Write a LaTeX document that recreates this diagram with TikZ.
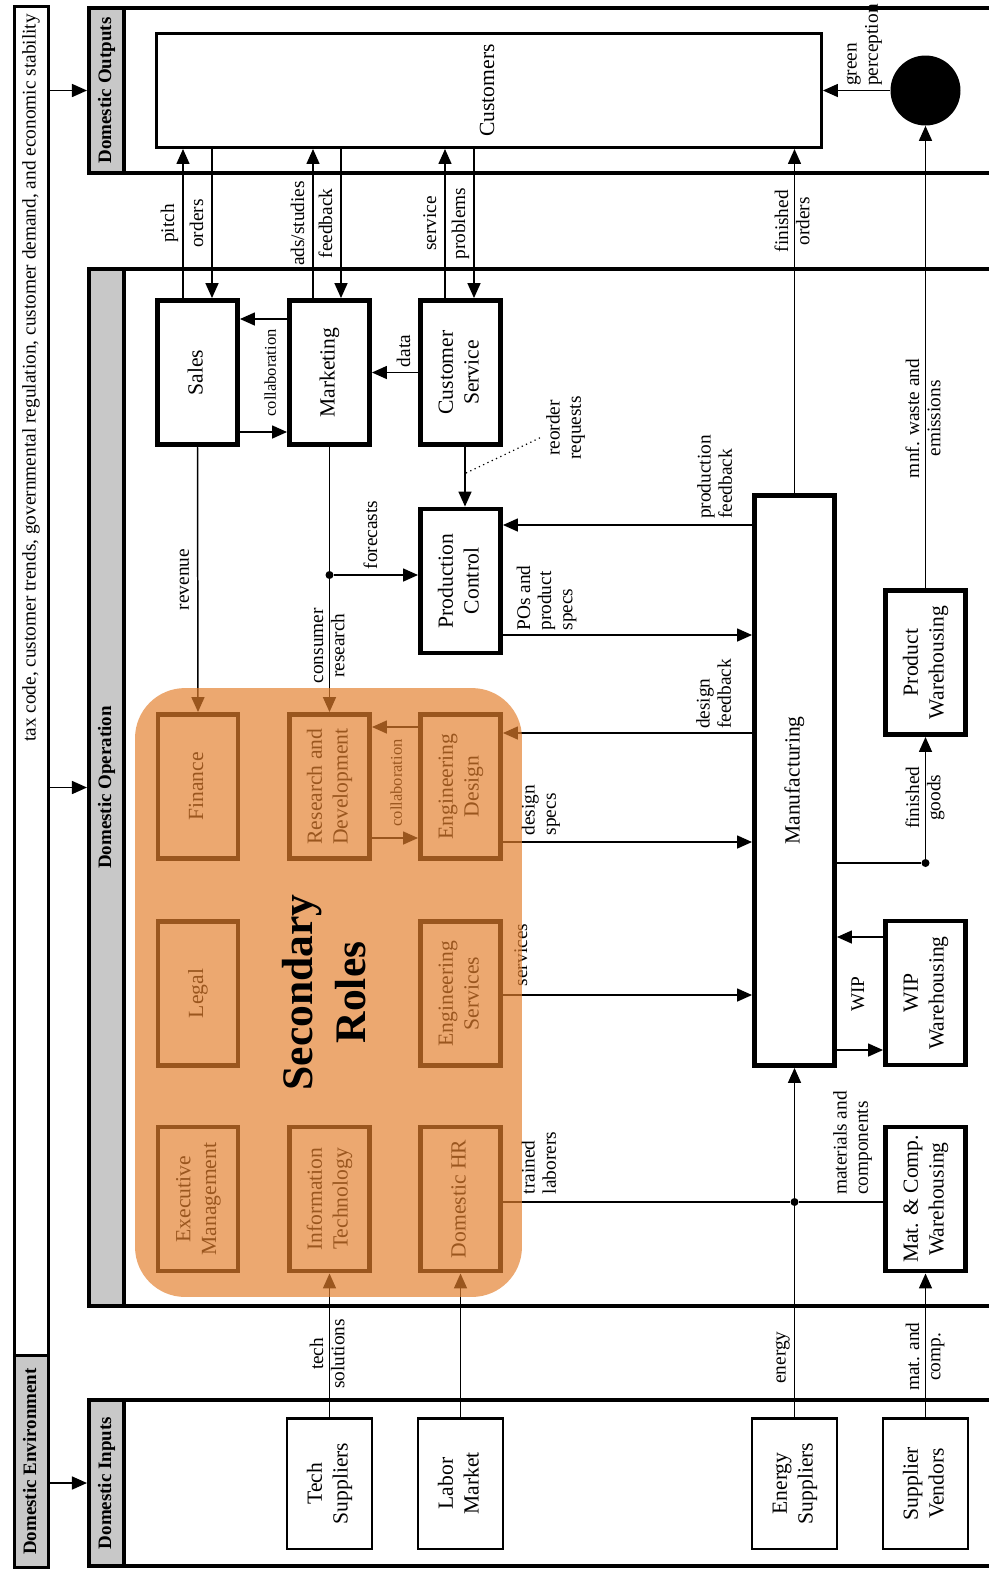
\documentclass[tikz,border=0pt]{standalone}
\usepackage{fontspec}
\setmainfont{Liberation Serif}
\usepackage{graphicx}
\usepackage{tikz}
\usetikzlibrary{arrows.meta,positioning}
\definecolor{StripGray} {HTML}{C8C8C8}
\definecolor{RoleOrange}{RGB}{227,127,45}
\newcommand\vtext[2][c]{\rotatebox{90}{\begin{tabular}{@{}#1@{}}#2\end{tabular}}}
\tikzset{
  group/.style={draw,line width=2.3pt},
  strip/.style={draw,fill=StripGray,line width=2.3pt,inner sep=0pt,minimum width=0.7cm,
                font=\fontsize{10.8}{13}\selectfont\bfseries},
  unit/.style={draw,fill=white,line width=2.8pt,inner sep=0pt,minimum width=1.6cm,
               minimum height=2.88cm,font=\fontsize{12.3}{14.7}\selectfont},
  source/.style={draw,fill=white,line width=1.4pt,inner sep=0pt,minimum width=1.71cm,
                 minimum height=2.61cm,font=\fontsize{12.3}{14.7}\selectfont},
  roles/.style={fill=RoleOrange,fill opacity=0.68,text opacity=1,rounded corners=1cm,
                inner sep=0pt,minimum width=7.74cm,minimum height=12.18cm,
                font=\fontsize{24.8}{30}\selectfont\bfseries},
  lbl/.style={inner sep=1pt,font=\fontsize{11}{12}\selectfont},
  tinylbl/.style={inner sep=1pt,font=\fontsize{9.4}{11}\selectfont},
  arr/.style={line width=0.85pt,-{Triangle[length=0.3cm,width=0.26cm]}},
  link/.style={line width=0.85pt},
  dot/.style={circle,fill,inner sep=0pt,minimum size=0.16cm},
}
\begin{document}
\begin{tikzpicture}[x=0.02cm,y=-0.02cm]
  \fill[white,use as bounding box] (0,0) rectangle (989,1570);

  \node[draw,line width=1.7pt,minimum width=0.68cm,minimum height=26.97cm] (envbar) at (31.5,681) {};
  \node[draw,fill=StripGray,line width=1.7pt,minimum width=0.68cm,minimum height=4.24cm,
        font=\fontsize{10.8}{13}\selectfont\bfseries] (envT) at (31.5,1461.5) {\vtext{Domestic Environment}};
  \node[lbl,anchor=north] (envText) at (31.5,12)
    {\vtext{tax code, customer trends, governmental regulation, customer demand, and economic stability}};

  \draw[group] (89,8) rectangle (1010,173);
  \draw[group] (89,269) rectangle (1010,1306);
  \draw[group] (89,1400) rectangle (1010,1566);
  \node[strip,minimum height=3.3cm] (outT) at (106.5,90.5) {\vtext{Domestic Outputs}};
  \node[strip,minimum height=20.74cm] (opT) at (106.5,787.5) {\vtext{Domestic Operation}};
  \node[strip,minimum height=3.32cm] (inT) at (106.5,1483) {\vtext{Domestic Inputs}};
  \draw[arr] (envbar.east |- outT) -- (outT);
  \draw[arr] (envbar.east |- opT) -- (opT);
  \draw[arr] (envT.east |- inT) -- (inT);

  \node[draw,line width=1.7pt,inner sep=0pt,minimum width=13.3cm,minimum height=2.28cm,
        font=\fontsize{12.3}{14.7}\selectfont] (Customers) at (489,90.5) {\vtext{Customers}};
  \node[circle,fill=black,inner sep=0pt,minimum size=1.4cm] (Circle) at (925.5,90.5) {};

  \node[unit] (Sales) at (197.5,372.5) {\vtext{Sales}};
  \node[unit] (Marketing) at (329.5,372.5) {\vtext{Marketing}};
  \node[unit] (CS) at (460.5,372.5) {\vtext{Customer\\Service}};
  \node[unit] (PC) at (460.5,581) {\vtext{Production\\Control}};
  \node[unit,minimum height=11.4cm] (Mfg) at (794.5,780.5) {\vtext{Manufacturing}};
  \node[unit] (PW) at (925.5,662.5) {\vtext{Product\\Warehousing}};
  \node[unit] (WIP) at (925.5,993) {\vtext{WIP\\Warehousing}};
  \node[unit] (MC) at (925.5,1199) {\vtext{Mat. \& Comp.\\Warehousing}};

  \node[unit] (Finance) at (198,786.5) {\vtext{Finance}};
  \node[unit] (RD) at (329.5,786.5) {\vtext{Research and\\Development}};
  \node[unit] (ED) at (460.5,786.5) {\vtext{Engineering\\Design}};
  \node[unit] (Legal) at (198,993.5) {\vtext{Legal}};
  \node[unit] (EServ) at (460.5,993.5) {\vtext{Engineering\\Services}};
  \node[unit] (EM) at (198,1199) {\vtext{Executive\\Management}};
  \node[unit] (IT) at (329.5,1199) {\vtext{Information\\Technology}};
  \node[unit] (HR) at (460.5,1199) {\vtext{Domestic HR}};

  \node[source] (Tech) at (329.5,1483.5) {\vtext{Tech\\Suppliers}};
  \node[source] (Labor) at (460.5,1483.5) {\vtext{Labor\\Market}};
  \node[source] (Energy) at (794.5,1483.5) {\vtext{Energy\\Suppliers}};
  \node[source] (Vendors) at (925.5,1483.5) {\vtext{Supplier\\Vendors}};

  \draw[arr] (Sales.north -| 183,0) -- node[lbl,left] (lPitch) {\vtext{pitch}} (Customers.south -| 183,0);
  \draw[arr] (Customers.south -| 212,0) -- node[lbl,left] (lOrders) {\vtext{orders}} (Sales.north -| 212,0);
  \draw[arr] (Marketing.north -| 313,0) -- node[lbl,left] (lAds) {\vtext{ads/studies}} (Customers.south -| 313,0);
  \draw[arr] (Customers.south -| 341,0) -- node[lbl,left] (lFeed) {\vtext{feedback}} (Marketing.north -| 341,0);
  \draw[arr] (CS.north -| 445,0) -- node[lbl,left] (lService) {\vtext{service}} (Customers.south -| 445,0);
  \draw[arr] (Customers.south -| 474,0) -- node[lbl,left] (lProblems) {\vtext{problems}} (CS.north -| 474,0);
  \draw[arr] (Mfg.north) -- node[lbl,pos=0.79] (lFinOrd) {\vtext{finished\\orders}} (Customers.south -| Mfg.north);
  \draw[arr] (PW.north) -- node[lbl,pos=0.367] (lWaste) {\vtext{mnf. waste and\\emissions}} (Circle.south);
  \draw[arr] (Circle) -- (Customers);
  \node[lbl,anchor=south] (lGreen) at (863,88) {\vtext[l]{green\\perception}};

  \draw[arr] (Marketing.west |- 0,319) -- (Sales.east |- 0,319);
  \draw[arr] (Sales.east |- 0,432) -- (Marketing.west |- 0,432);
  \node[tinylbl] (lCollabA) at (272,373) {\vtext{collaboration}};
  \draw[arr] (CS) -- (Marketing);
  \node[lbl] (lData) at (406,351) {\vtext{data}};
  \draw[arr] (CS.south -| 465,0) -- (PC.north -| 465,0);
  \coordinate (reo) at (466,473);
  \node[lbl] (lReorder) at (566,428) {\vtext{reorder\\requests}};
  \draw[dotted,line width=0.7pt] (reo) -- (lReorder.200);

  \draw[arr] (Sales.south) -- node[lbl,left] (lRevenue) {\vtext{revenue}} (Finance.north);
  \node[dot] (fcDot) at (329.5,575) {};
  \draw[link] (Marketing.south) -- (fcDot);
  \draw[arr] (fcDot) -- node[lbl] (lConsumer) {\vtext{consumer\\research}} (RD.north);
  \draw[arr] (fcDot) -- (PC.west |- fcDot);
  \node[lbl] (lForecast) at (373,535) {\vtext{forecasts}};

  \draw[arr] (Mfg.west |- 0,525) -- (PC.east |- 0,525);
  \node[lbl] (lProdFeed) at (717,477) {\vtext[l]{production\\feedback}};
  \draw[arr] (PC.east |- 0,635) -- (Mfg.west |- 0,635);
  \node[lbl] (lPOs) at (547,598) {\vtext[l]{POs and\\product\\specs}};
  \draw[arr] (Mfg.west |- 0,733) -- (ED.east |- 0,733);
  \node[lbl] (lDesFeed) at (716,694) {\vtext[l]{design\\feedback}};
  \draw[arr] (ED.east |- 0,842) -- (Mfg.west |- 0,842);
  \node[lbl] (lDesSpecs) at (541,810) {\vtext[l]{design\\specs}};
  \draw[arr] (EServ.east |- 0,995) -- (Mfg.west |- 0,995);
  \node[lbl] (lServices) at (523,955) {\vtext{services}};

  \draw[arr] (ED.west |- 0,727) -- (RD.east |- 0,727);
  \draw[arr] (RD.east |- 0,838) -- (ED.west |- 0,838);
  \node[tinylbl] (lCollabB) at (398,783) {\vtext{collaboration}};

  \node[dot] (mDot) at (794.5,1202) {};
  \draw[link] (HR.east |- mDot) -- (mDot);
  \draw[link] (MC.west |- mDot) -- (mDot);
  \node[lbl] (lTrained) at (541,1163) {\vtext[l]{trained\\laborers}};
  \node[lbl] (lMaterials) at (853,1143) {\vtext[l]{materials and\\components}};
  \draw[arr] (Energy.north) -- node[lbl,left,pos=0.17] (lEnergy) {\vtext{energy}} (Mfg.south);

  \draw[arr] (WIP.west |- 0,937) -- (Mfg.east |- 0,937);
  \draw[arr] (Mfg.east |- 0,1050) -- (WIP.west |- 0,1050);
  \node[lbl] (lWIP) at (860,994) {\vtext{WIP}};
  \node[dot] (gDot) at (925.5,863) {};
  \draw[link] (Mfg.east |- gDot) -- (gDot);
  \draw[arr] (gDot) -- node[lbl] (lGoods) {\vtext{finished\\goods}} (PW.south);

  \draw[arr] (Tech.north) -- node[lbl,pos=0.44] (lTech) {\vtext{tech\\solutions}} (IT.south);
  \draw[arr] (Labor.north) -- (HR.south);
  \draw[arr] (Vendors.north) -- node[lbl,pos=0.42] (lMatComp) {\vtext{mat. and\\comp.}} (MC.south);

  \node[roles] (Secondary) at (328.5,992.5) {\vtext{Secondary\\Roles}};
\end{tikzpicture}
\end{document}
